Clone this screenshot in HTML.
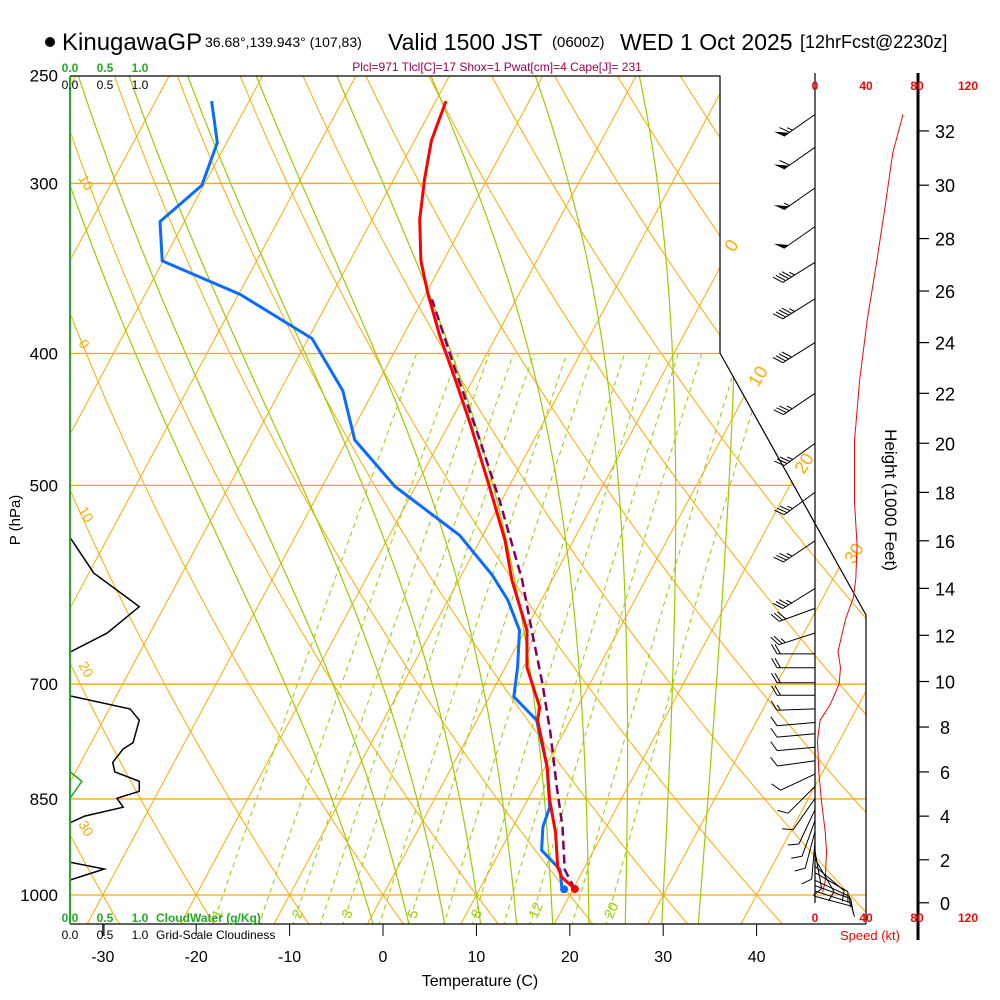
<!DOCTYPE html>
<html><head><meta charset="utf-8"><style>
html,body{margin:0;padding:0;background:#fff;}
svg{display:block;font-family:"Liberation Sans",sans-serif;}
</style></head><body>
<svg id="c" width="1000" height="1000" viewBox="0 0 1000 1000" xmlns="http://www.w3.org/2000/svg">
<defs><clipPath id="clip"><polygon points="70,76 720,76 720,353 866,615 866,924 70,924"/></clipPath></defs>
<g id="hdr">
<circle cx="50" cy="42" r="5" fill="#000"/>
<text x="62" y="50" font-size="24">KinugawaGP</text>
<text x="205" y="47" font-size="14">36.68°,139.943° (107,83)</text>
<text x="388" y="50" font-size="23">Valid 1500 JST</text>
<text x="552" y="47" font-size="15">(0600Z)</text>
<text x="620" y="50" font-size="23">WED 1 Oct 2025</text>
<text x="800" y="48" font-size="18">[12hrFcst@2230z]</text>
<text x="497" y="71" font-size="12" fill="#a0004a" text-anchor="middle">Plcl=971 Tlcl[C]=17 Shox=1 Pwat[cm]=4 Cape[J]= 231</text>
</g>
<g id="grid" clip-path="url(#clip)"></g>
<g id="glab"></g>
<g id="prof" clip-path="url(#clip)"></g>
<g id="ax"></g>
<g id="wind"></g>
</svg>
<script>
const tempP=[990,970,954,900,852,805,744,728,680,639,587,549,501,451,418,388,362,342,319,298,279,261];
const tempT=[20.2,18.1,17.1,14.9,12.4,10.2,6.5,6.0,2.3,0.2,-4.3,-7.3,-12.1,-17.7,-21.9,-26.1,-29.7,-32.4,-34.9,-36.7,-38.2,-38.9];
const dewP=[992,958,927,891,862,805,744,715,680,639,607,582,544,501,463,426,390,362,342,320,301,280,261];
const dewT=[18.9,17.5,14.4,13.2,12.8,10.2,6.4,2.6,1.3,-0.6,-3.6,-6.7,-12.5,-22.2,-29.2,-33.3,-39.6,-49.8,-60.1,-62.6,-60.2,-61.0,-64.0];
const parcelP=[990,958,891,833,760,699,639,587,513,463,411,365];
const parcelT=[20.2,18.0,15.3,12.4,8.6,4.9,0.7,-3.2,-10.2,-15.8,-22.5,-29.0];
const cloudP=[547,580,614,642,663,714,730,744,773,781,799,812,825,839,849,862,875,885,946,957,975];
const cloudV=[0.01,0.34,0.99,0.53,0,0,0.86,0.99,0.9,0.76,0.61,0.64,0.99,0.99,0.67,0.76,0.21,0,0,0.49,0];
const cwP=[812,825,849];
const cwV=[0,0.17,0];
const spdH=[0.5,1.0,2.4,3.3,4.7,6.0,7.4,8.3,9.0,9.9,10.6,11.3,12.7,13.6,14.4,15.8,17.6,20.1,22.5,24.9,27,29.2,31.2,32.6];
const spdV=[6,8,9,8,5,3,2,4,12,19,20,18,24,30,32,33,31,31,35,41,48,55,61,69];
const barbH=[32.6,31.4,29.9,28.45,27.1,25.7,24,22,20,18,16,14,13.15,12.1,11.2,10.6,9.95,9.4,8.8,8.2,7.7,7.1,6.5,5.9,5.35,4.8,4.3,3.8,3.3,2.85,2.4,2.05,1.7,1.4,1.05,0.8,0.55,0.3];
const barbDir=[235,235,235,235,238,238,238,236,234,234,236,238,250,252,270,270,270,270,268,265,265,265,262,245,225,215,205,200,195,185,170,150,130,120,115,110,108,105];
const barbSpd=[65,60,55,50,45,45,40,35,35,35,35,35,30,25,20,20,20,20,15,10,10,10,10,10,10,10,10,10,10,10,10,10,10,10,10,10,10,10];
const tempTicks=[-30,-20,-10,0,10,20,30,40];
const presLabels=[250,300,400,500,700,850,1000];
const isobars=[300,400,500,700,850,1000];
const heightTicks=[0,2,4,6,8,10,12,14,16,18,20,22,24,26,28,30,32];
const mixRatios=[1,2,3,5,8,12,20];
const mixLabels=["1","2","3","5","8","12","20"];
const mixExtra=[1.5,2.5,4,6.5,10,16];
const moistThetas=[-2,2,6,10,14,18,22,26,30,34];
const dryThetas=[-40,-30,-20,-10,0,10,20,30,40,50,60,70,80,90,100,110,120,130];
const isotherms=[-120,-110,-100,-90,-80,-70,-60,-50,-40,-30,-20,-10,0,10,20,30,40];
const speedTicks=[0,40,80,120];

const NS="http://www.w3.org/2000/svg";
function mk(tag,attrs,parent){const e=document.createElementNS(NS,tag);for(const k in attrs)e.setAttribute(k,attrs[k]);parent.appendChild(e);return e;}
const yP=p=>895-591*Math.log(1000/p);
const xT=(T,p)=>383+9.34*T+317.4*Math.log(1000/p);
const hToP=h=>1013.25*Math.pow(1-2.25577e-5*h*304.8,5.25588);
const yH=h=>yP(hToP(h));
const xS=s=>815+s*51/40;
const xC=v=>70+v*70;
const es=t=>6.112*Math.exp(17.67*t/(t+243.5));
const OR="#ffaa00",GR="#99cc00";
const G=document.getElementById('grid'),GL=document.getElementById('glab'),P=document.getElementById('prof'),A=document.getElementById('ax'),W=document.getElementById('wind');
function pathD(pts){return pts.map((q,i)=>(i?'L':'M')+q[0].toFixed(1)+','+q[1].toFixed(1)).join('');}
const PB=1055;

isobars.forEach(p=>{const l=mk('line',{x1:70,x2:900,y1:yP(p),y2:yP(p),stroke:OR,'stroke-width':1.3},G);

});
isotherms.forEach(T=>{const l=mk('line',{x1:xT(T,PB),y1:yP(PB),x2:xT(T,240),y2:yP(240),stroke:OR,'stroke-width':1},G);

});
dryThetas.forEach(th=>{const pts=[];for(let p=PB;p>=240;p-=5){const T=(th+273.15)*Math.pow(p/1000,0.2857)-273.15;pts.push([xT(T,p),yP(p)]);}
const e=mk('path',{d:pathD(pts),fill:'none',stroke:OR,'stroke-width':1},G);

});
function dTdp(T,p){const tc=T-273.15;const e=es(tc);const rs=0.622*e/(p-e);return (287*T+2.5e6*rs)/(p*(1004+2.5e6*2.5e6*rs*0.622/(287*T*T)));}
moistThetas.forEach(tw=>{let T=tw+273.15;const up=[[xT(tw,1000),yP(1000)]];
for(let p=1000;p>240;p-=5){T-=dTdp(T,p)*5;up.push([xT(T-273.15,p-5),yP(p-5)]);}
T=tw+273.15;const dn=[];for(let p=1000;p<PB;p+=5){T+=dTdp(T,p)*5;dn.push([xT(T-273.15,p+5),yP(p+5)]);}
const pts=dn.reverse().concat(up);
const e=mk('path',{d:pathD(pts),fill:'none',stroke:GR,'stroke-width':1.2},G);

});
function mixPts(w){const pts=[];for(let p=PB;p>=400;p-=5){const e=w*p/(622+w);const L=Math.log(e/6.112);const td=243.5*L/(17.67-L);pts.push([xT(td,p),yP(p)]);}return pts;}
mixRatios.forEach((w,i)=>{const pts=mixPts(w);
const e=mk('path',{d:pathD(pts),fill:'none',stroke:GR,'stroke-width':1,'stroke-dasharray':'5,4'},G);


const q=pts[4];const t=mk('text',{x:q[0]+4,y:q[1]+4,fill:GR,'font-size':14,transform:`rotate(-65 ${q[0]+4} ${q[1]+4})`},G);t.textContent=mixLabels[i];

});
mixExtra.forEach(w=>{const e=mk('path',{d:pathD(mixPts(w)),fill:'none',stroke:GR,'stroke-width':1,'stroke-dasharray':'5,4'},G);

});
[["30",78,824],["20",78,665],["10",78,510],["0",78,343],["10",78,178]].forEach(a=>{const t=mk('text',{x:a[1],y:a[2],fill:OR,'font-size':14,transform:`rotate(60 ${a[1]} ${a[2]})`},GL);t.textContent=a[0];

});
[["0",733,243],["10",757,378],["20",803,465],["30",853,555]].forEach(a=>{const t=mk('text',{x:a[1]-8,y:a[2]+6,fill:OR,'font-size':18,transform:`rotate(-58 ${a[1]} ${a[2]})`},GL);t.textContent=a[0];

});

let e=mk('path',{d:pathD(cloudP.map((p,i)=>[xC(cloudV[i]),yP(p)])),fill:'none',stroke:'#000','stroke-width':1.5},P);


e=mk('path',{d:pathD(cwP.map((p,i)=>[xC(cwV[i]),yP(p)])),fill:'none',stroke:'#22aa22','stroke-width':1.5},P);


e=mk('path',{d:pathD(parcelP.map((p,i)=>[xT(parcelT[i],p),yP(p)])),fill:'none',stroke:'#800060','stroke-width':2.5,'stroke-dasharray':'9,5'},P);


e=mk('path',{d:pathD(dewP.map((p,i)=>[xT(dewT[i],p),yP(p)])),fill:'none',stroke:'#0a6cff','stroke-width':3,'stroke-linejoin':'round'},P);


e=mk('path',{d:pathD(tempP.map((p,i)=>[xT(tempT[i],p),yP(p)])),fill:'none',stroke:'#ff0000','stroke-width':3,'stroke-linejoin':'round'},P);


e=mk('circle',{cx:xT(dewT[0],dewP[0])+2,cy:yP(dewP[0])-1,r:4,fill:'#0a6cff'},P);


e=mk('circle',{cx:xT(tempT[0],tempP[0]),cy:yP(tempP[0]),r:4,fill:'#ff0000'},P);



e=mk('polyline',{points:'70,76 720,76 720,353 866,615 866,924',fill:'none',stroke:'#000','stroke-width':1.2},A);


e=mk('line',{x1:70,y1:924,x2:866,y2:924,stroke:'#000','stroke-width':1.2},A);


e=mk('line',{x1:70,y1:76,x2:70,y2:924,stroke:'#22aa22','stroke-width':2},A);


tempTicks.forEach(T=>{const x=xT(T,1000);mk('line',{x1:x,x2:x,y1:924,y2:936,stroke:'#000'},A);
const t=mk('text',{x:x,y:962,'font-size':16,'text-anchor':'middle'},A);t.textContent=T;

});
presLabels.forEach(p=>{const t=mk('text',{x:58,y:yP(p)+6,'font-size':17,'text-anchor':'end'},A);t.textContent=p;

});
e=mk('text',{x:480,y:986,'font-size':16,'text-anchor':'middle'},A);e.textContent='Temperature (C)';


e=mk('text',{x:20,y:520,'font-size':15,'text-anchor':'middle',transform:'rotate(-90 20 520)'},A);e.textContent='P (hPa)';


[[70,'0.0'],[105,'0.5'],[140,'1.0']].forEach(a=>{
let t=mk('text',{x:a[0],y:72,'font-size':12,fill:'#22aa22','text-anchor':'middle','font-weight':'bold'},A);t.textContent=a[1];


t=mk('text',{x:a[0],y:89,'font-size':12,'text-anchor':'middle'},A);t.textContent=a[1];


t=mk('text',{x:a[0],y:922,'font-size':12,fill:'#22aa22','text-anchor':'middle','font-weight':'bold'},A);t.textContent=a[1];


t=mk('text',{x:a[0],y:939,'font-size':12,'text-anchor':'middle'},A);t.textContent=a[1];

});
mk('line',{x1:104,x2:104,y1:924,y2:936,stroke:'#000'},A);
e=mk('text',{x:156,y:922,'font-size':12,fill:'#22aa22','font-weight':'bold'},A);e.textContent='CloudWater (g/Kg)';


e=mk('text',{x:156,y:939,'font-size':12},A);e.textContent='Grid-Scale Cloudiness';



mk('line',{x1:815,x2:815,y1:73,y2:903,stroke:'#000','stroke-width':1.2},W);
mk('line',{x1:918,x2:918,y1:73,y2:940,stroke:'#000','stroke-width':3},W);
speedTicks.forEach(s=>{let t=mk('text',{x:xS(s),y:90,'font-size':12,fill:'#ff0000','text-anchor':'middle','font-weight':'bold'},W);t.textContent=s;


t=mk('text',{x:xS(s),y:922,'font-size':12,fill:'#ff0000','text-anchor':'middle','font-weight':'bold'},W);t.textContent=s;

});
e=mk('text',{x:870,y:940,'font-size':13,fill:'#ff0000','text-anchor':'middle'},W);e.textContent='Speed (kt)';


heightTicks.forEach(h=>{const y=yH(h);mk('line',{x1:918,x2:929,y1:y,y2:y,stroke:'#000','stroke-width':1.2},W);
const t=mk('text',{x:945,y:y+7,'font-size':18,'text-anchor':'middle'},W);t.textContent=h;

});
e=mk('text',{x:885,y:500,'font-size':17,'text-anchor':'middle',transform:'rotate(90 885 500)'},W);e.textContent='Height (1000 Feet)';


e=mk('path',{d:pathD(spdH.map((h,i)=>[xS(spdV[i]),yH(h)])),fill:'none',stroke:'#ff0000','stroke-width':1},W);


barbH.forEach((h,i)=>{const y=yH(h),th=barbDir[i]*Math.PI/180,ux=Math.sin(th),uy=-Math.cos(th),L=38;
const tx=815+ux*L,ty=y+uy*L;const c=Math.cos(Math.PI/3),s=Math.sin(Math.PI/3);
const fx=ux*c-uy*s,fy=ux*s+uy*c;let d=`M815,${y.toFixed(1)}L${tx.toFixed(1)},${ty.toFixed(1)}`;
let sp=barbSpd[i],pos=0;const g=mk('g',{},W);


while(sp>=50){const ax=tx-ux*pos,ay=ty-uy*pos;mk('polygon',{points:`${ax},${ay} ${ax+fx*11},${ay+fy*11} ${ax-ux*6},${ay-uy*6}`,fill:'#000'},g);pos+=7;sp-=50;}
while(sp>=10){const ax=tx-ux*pos,ay=ty-uy*pos;d+=`M${ax.toFixed(1)},${ay.toFixed(1)}l${(fx*11).toFixed(1)},${(fy*11).toFixed(1)}`;pos+=3.5;sp-=10;}
if(sp>=5){const ax=tx-ux*pos,ay=ty-uy*pos;d+=`M${ax.toFixed(1)},${ay.toFixed(1)}l${(fx*6).toFixed(1)},${(fy*6).toFixed(1)}`;}
mk('path',{d:d,fill:'none',stroke:'#000','stroke-width':1},g);});
</script>
</body></html>
